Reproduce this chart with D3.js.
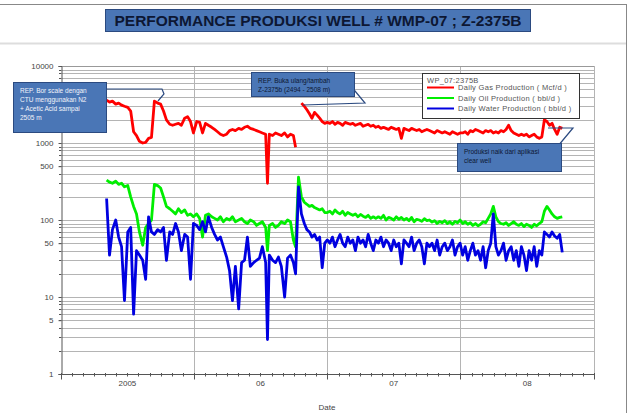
<!DOCTYPE html>
<meta charset="utf-8">
<html>
<head>
  <style>
    body { margin: 0; background: #fff; }
    svg { display: block; font-family: "Liberation Sans", Arial, sans-serif; }
    .grid line { stroke: #b4b4b4; stroke-width: 1px; }
    .axis text { font-size: 8px; fill: #444; }
    .axis path, .axis line { stroke: #555; }
    .note { font-size: 6.5px; }
    .legend text { font-size: 7.5px; fill: #555; letter-spacing: 0.3px; }
  </style>
</head>
<body>
<svg width="634" height="413"></svg>

<script src="https://d3js.org/d3.v7.min.js"></script>
<script>

// dates shared by all three series (read every ~8 days, then weekly after the re-perforation)
const dates = [
  "2005-05-06","2005-05-14","2005-05-22","2005-05-31","2005-06-08","2005-06-16","2005-06-24","2005-07-03",
  "2005-07-11","2005-07-19","2005-07-27","2005-08-04","2005-08-13","2005-08-21","2005-08-29","2005-09-06",
  "2005-09-14","2005-09-23","2005-10-01","2005-10-09","2005-10-17","2005-10-26","2005-11-03","2005-11-11",
  "2005-11-19","2005-11-27","2005-12-06","2005-12-14","2005-12-22","2005-12-30","2006-01-08","2006-01-16",
  "2006-01-24","2006-02-01","2006-02-09","2006-02-18","2006-02-26","2006-03-06","2006-03-14","2006-03-22",
  "2006-03-31","2006-04-08","2006-04-16","2006-04-24","2006-05-03","2006-05-11","2006-05-19","2006-05-27",
  "2006-06-04","2006-06-13","2006-06-21","2006-06-29","2006-07-07","2006-07-16","2006-07-21","2006-07-26",
  "2006-08-04","2006-08-12","2006-08-20","2006-08-28","2006-09-06","2006-09-14","2006-09-22","2006-09-30",
  "2006-10-06","2006-10-14","2006-10-22",
  "2006-10-30","2006-11-06","2006-11-13","2006-11-20","2006-11-27","2006-12-04","2006-12-11","2006-12-18","2006-12-25",
  "2007-01-01","2007-01-08","2007-01-15","2007-01-22","2007-01-29","2007-02-05","2007-02-12","2007-02-19","2007-02-26","2007-03-05",
  "2007-03-12","2007-03-19","2007-03-26","2007-04-02","2007-04-09","2007-04-16","2007-04-23","2007-04-30","2007-05-07","2007-05-14",
  "2007-05-21","2007-05-28","2007-06-04","2007-06-11","2007-06-18","2007-06-25","2007-07-02","2007-07-09","2007-07-16","2007-07-23",
  "2007-07-30","2007-08-06","2007-08-13","2007-08-20","2007-08-27","2007-09-03","2007-09-10","2007-09-17","2007-09-24","2007-10-01",
  "2007-10-08","2007-10-15","2007-10-22","2007-10-29","2007-11-05","2007-11-12","2007-11-19","2007-11-26","2007-12-03","2007-12-10",
  "2007-12-17","2007-12-24","2007-12-31",
  "2008-01-07","2008-01-14","2008-01-21","2008-01-28","2008-02-04","2008-02-11","2008-02-18","2008-02-25","2008-03-03","2008-03-10",
  "2008-03-17","2008-03-24","2008-03-31","2008-04-07","2008-04-14","2008-04-21","2008-04-28","2008-05-05","2008-05-12","2008-05-19",
  "2008-05-26","2008-06-02","2008-06-09","2008-06-16","2008-06-23","2008-06-30","2008-07-07","2008-07-14","2008-07-21","2008-07-28",
  "2008-08-04","2008-08-11","2008-08-18","2008-08-25","2008-09-01","2008-09-08","2008-09-15","2008-09-22","2008-09-29","2008-10-06"
];

// Daily Gas Production ( Mcf/d )
const gas = [
  3600,3400,3500,3200,3300,3100,3000,2900, 2600,1400,1250,1050,1000,1020,1150,1180,
  3500,3300,3200,2600,2000,1750,1700,1750, 1800,1700,2100,2200,1900,1350,1900,1850,
  1350,1800,1700,1600,1500,1400,1300,1250, 1300,1450,1500,1450,1550,1500,1600,1650,
  1550,1500,1450,1400,1350,1300,300,1300, 1250,1350,1300,1250,1350,1200,1300,1250,
  880,null,3300,
  3000,2700,2400,2100,2500,2300,2100,1900,1800,
  1850,1800,1900,1750,1850,1800,1700,1850,1800,1750,
  1800,1700,1750,1800,1650,1700,1750,1650,1700,1600,
  1650,1550,1600,1550,1500,1600,1550,1500,1550,1150,
  1550,1500,1450,1550,1500,1450,1500,1400,1450,1500,
  1450,1400,1350,1450,1400,1350,1400,1350,1300,1400,1350,1300,1350,
  1350,1400,1300,1450,1400,1500,1450,1400,1350,1450,
  1400,1450,1350,1400,1350,1450,1400,1500,1700,1450,
  1350,1300,1250,1300,1250,1300,1200,1250,1300,1200,
  1150,1200,2000,1900,1700,1800,1500,1300,1600,1550
];

// Daily Oil Production ( bbl/d )
const oil = [
  330,310,300,320,290,300,270,280, 200,150,120,70,47,80,90,100,
  290,280,260,200,150,140,130,120, 140,125,135,115,120,110,120,105,
  60,115,120,110,105,100,110,95, 105,100,110,95,100,105,95,90,
  100,95,85,90,95,80,40,85, 90,80,85,95,90,100,95,55,
  45,360,200,
  170,160,150,155,145,140,135,140,125,
  125,130,120,135,125,120,130,115,125,120,
  115,120,110,118,112,108,115,105,110,105,
  110,105,115,100,108,105,100,110,102,108,
  100,105,98,108,95,102,100,96,104,98,
  100,94,98,90,96,92,98,90,95,88,96,92,100,
  90,95,88,92,85,90,84,88,95,92,
  105,120,150,110,95,90,88,92,85,90,
  95,88,85,90,82,88,85,80,88,84,
  90,95,130,150,135,120,110,105,108,110
];

// Daily Water Production ( bbl/d )
const water = [
  190,35,75,100,60,45,9,70, 80,6,40,35,30,17,110,70,
  65,75,70,80,30,70,65,90, 70,40,65,60,17,90,85,75,
  95,70,110,80,65,55,60,45, 33,22,9,25,7,28,30,60,
  25,28,30,32,45,28,2.8,35, 30,28,33,25,10,32,35,28,
  20,270,120,
  90,75,70,60,65,55,60,24,50,
  55,50,60,45,55,65,50,45,60,50,
  55,40,60,50,55,45,65,50,40,55,
  50,60,45,55,50,40,55,45,50,27,
  55,50,45,60,40,50,55,45,27,50,
  45,50,40,55,35,45,50,40,45,55,35,45,50,
  35,45,30,40,50,35,40,30,45,24,
  40,50,120,45,35,40,50,30,40,45,
  30,40,25,45,35,22,40,30,45,25,
  40,35,70,65,60,70,62,58,65,38
];

const seriesNames = ["Daily Gas Production ( Mcf/d )", "Daily Oil Production ( bbl/d )", "Daily Water Production ( bbl/d )"];
const seriesColors = ["#ff0000", "#00ee00", "#0000e0"];
const yTicks = [1, 5, 10, 50, 100, 500, 1000, 10000];
const yearLabels = ["2005", "06", "07", "08"];

const parse = d3.timeParse("%Y-%m-%d");
const dateVals = dates.map(parse);

const svg = d3.select("svg");

// slide frame
svg.append("line").attr("x1", 0).attr("x2", 627).attr("y1", 4.5).attr("y2", 4.5).attr("stroke", "#888");
svg.append("line").attr("x1", 626.5).attr("x2", 626.5).attr("y1", 4).attr("y2", 413).attr("stroke", "#888");
svg.append("line").attr("x1", 0).attr("x2", 626).attr("y1", 43.5).attr("y2", 43.5).attr("stroke", "#ddd").attr("stroke-width", 2);

// title box
svg.append("rect").attr("x", 105.5).attr("y", 9.5).attr("width", 425).attr("height", 22)
  .attr("fill", "#4a76b6").attr("stroke", "#2b4a80");
svg.append("text").attr("x", 318).attr("y", 26).attr("text-anchor", "middle")
  .attr("font-size", 15.5).attr("font-weight", "bold").attr("fill", "#0d1733")
  .text("PERFORMANCE PRODUKSI WELL # WMP-07 ; Z-2375B");

// scales
const x = d3.scaleTime().domain([new Date(2005, 0, 1), new Date(2009, 0, 1)]).range([61, 594]);
const y = d3.scaleLog().domain([1, 10000]).range([374, 66]);

// horizontal grid: every 1..9 of each decade
const gridVals = [];
for (let e = 0; e < 4; e++) for (let m = 1; m < 10; m++) gridVals.push(m * Math.pow(10, e));
gridVals.push(10000);
svg.append("g").attr("class", "grid")
  .selectAll("line").data(gridVals).join("line")
  .attr("x1", 61).attr("x2", 594)
  .attr("y1", d => Math.round(y(d)) + 0.5).attr("y2", d => Math.round(y(d)) + 0.5);

// vertical grid at year boundaries
const yearBounds = [new Date(2006, 0, 1), new Date(2007, 0, 1), new Date(2008, 0, 1), new Date(2009, 0, 1)];
svg.append("g").attr("class", "grid")
  .selectAll("line").data(yearBounds).join("line")
  .attr("x1", d => Math.round(x(d)) + 0.5).attr("x2", d => Math.round(x(d)) + 0.5)
  .attr("y1", 66).attr("y2", 374).attr("stroke", "#999");
svg.append("line").attr("x1", 61).attr("x2", 594).attr("y1", 66.5).attr("y2", 66.5).attr("stroke", "#999");

// y axis
const yAxis = svg.append("g").attr("class", "axis").attr("transform", "translate(61.5,0)")
  .call(d3.axisLeft(y).tickValues(yTicks).tickSize(3).tickPadding(5).tickFormat(d3.format("d")));
yAxis.select(".domain").attr("stroke", "#444");
svg.append("g").attr("class", "axis").selectAll("line").data(gridVals).join("line")
  .attr("x1", 59).attr("x2", 61).attr("y1", d => Math.round(y(d)) + 0.5).attr("y2", d => Math.round(y(d)) + 0.5)
  .attr("stroke", "#555");

// x axis: monthly minor ticks, year boundaries as major ticks, labels mid-year
const xAxis = svg.append("g").attr("class", "axis").attr("transform", "translate(0,374.5)");
xAxis.append("line").attr("x1", 61).attr("x2", 594).attr("stroke", "#444");
xAxis.selectAll(".minor").data(x.ticks(d3.timeMonth.every(1))).join("line")
  .attr("class", "minor")
  .attr("x1", d => Math.round(x(d)) + 0.5).attr("x2", d => Math.round(x(d)) + 0.5)
  .attr("y1", -1.5).attr("y2", 2).attr("stroke", "#666");
xAxis.selectAll(".major").data([new Date(2005, 0, 1)].concat(yearBounds)).join("line")
  .attr("class", "major")
  .attr("x1", d => Math.round(x(d)) + 0.5).attr("x2", d => Math.round(x(d)) + 0.5)
  .attr("y1", 0).attr("y2", 5).attr("stroke", "#444");
xAxis.selectAll("text").data(yearLabels).join("text")
  .attr("x", (d, i) => x(new Date(2005 + i, 6, 2)))
  .attr("y", 11).attr("text-anchor", "middle").text(d => d);
svg.append("text").attr("x", 327).attr("y", 410).attr("text-anchor", "middle")
  .attr("font-size", 8).attr("fill", "#444").text("Date");

// series lines
const line = d3.line()
  .defined(d => d[1] != null)
  .x(d => x(d[0]))
  .y(d => y(d[1]));

[gas, oil, water].forEach((vals, i) => {
  const pts = vals.map((v, j) => [dateVals[j], v]);
  svg.append("path").datum(pts)
    .attr("fill", "none")
    .attr("stroke", seriesColors[i])
    .attr("stroke-width", 2.8)
    .attr("stroke-linejoin", "round")
    .attr("d", line);
});

// legend
const legend = svg.append("g").attr("class", "legend");
legend.append("rect").attr("x", 422.5).attr("y", 73.5).attr("width", 157).attr("height", 45)
  .attr("fill", "#fff").attr("stroke", "#333");
legend.append("text").attr("x", 427).attr("y", 83).text("WP_07:2375B");
seriesNames.forEach((name, i) => {
  const ly = 87.5 + i * 10.5;
  legend.append("line").attr("x1", 427).attr("x2", 454).attr("y1", ly).attr("y2", ly)
    .attr("stroke", seriesColors[i]).attr("stroke-width", 2);
  legend.append("text").attr("x", 458).attr("y", ly + 2.5).text(name);
});

// callouts
function callout(bx, by, bw, bh, pointer, lines, color) {
  const g = svg.append("g");
  g.append("polyline").attr("points", pointer.map(p => p.join(",")).join(" "))
    .attr("fill", "none").attr("stroke", "#2b4a80").attr("stroke-width", 1.2);
  g.append("rect").attr("x", bx + 0.5).attr("y", by + 0.5).attr("width", bw).attr("height", bh)
    .attr("fill", "#4a76b6").attr("stroke", "#2b4a80");
  lines.forEach((t, i) => {
    g.append("text").attr("class", "note").attr("x", bx + 7).attr("y", by + 11 + i * 9)
      .attr("fill", color).text(t);
  });
}

callout(13, 82, 93, 50, [[106, 89], [162, 89], [164, 94], [158, 101]],
  ["REP. Bor scale dengan", "CTU menggunakan N2", "+ Acetic Acid sampai", "2505 m"], "#f2f4fa");
callout(251, 72, 103, 24, [[350, 85], [365, 103], [303, 105]],
  ["REP.    Buka    ulang/tambah", "Z-2375b (2494 - 2508 m)"], "#0d1733");
callout(457, 143, 104, 28, [[558, 146], [573, 128], [548, 128]],
  ["Produksi   naik   dari   aplikasi", "clear well"], "#0d1733");

</script>
</body>
</html>
